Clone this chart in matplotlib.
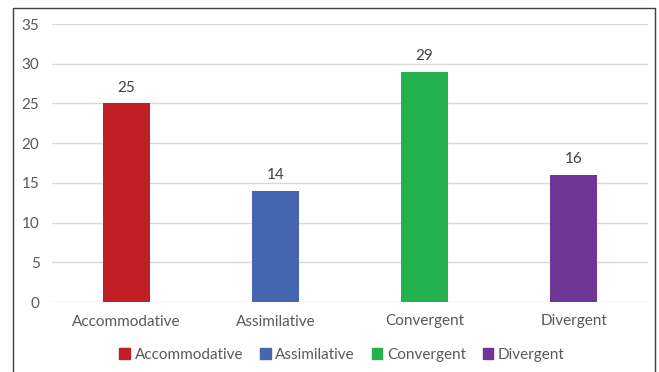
import matplotlib.pyplot as plt
from matplotlib.patches import Rectangle, Patch

categorias = ['Accommodative', 'Assimilative', 'Convergent', 'Divergent']
valores = [25, 14, 29, 16]
colores = ['#C01F26', '#4565B0', '#22B14C', '#6F3597']

plt.rcParams['font.family'] = ['Lato', 'DejaVu Sans']

fig = plt.figure(figsize=(6.59, 3.72), dpi=100)
ax = fig.add_axes([52/659, 1 - 302/372, 596/659, 278/372])

x = range(len(categorias))
ax.bar(x, valores, width=0.315, color=colores, zorder=3)
for i, v in zip(x, valores):
    ax.text(i, v + 1.1, str(v), ha='center', va='bottom', fontsize=11, color='#404040')

ax.set_xlim(-0.5, 3.5)
ax.set_ylim(0, 35)
ax.set_yticks(range(0, 36, 5))
ax.set_xticks(list(x))
ax.set_xticklabels(categorias)
ax.grid(axis='y', color='#D9D9D9', lw=1, zorder=0)
for s in ax.spines.values():
    s.set_visible(False)
ax.tick_params(length=0, labelsize=11, colors='#595959', pad=9)
ax.tick_params(axis='x', pad=9)

handles = [Patch(color=c, label=n) for c, n in zip(colores, categorias)]
fig.legend(handles=handles, loc='center', bbox_to_anchor=(342/659, 1 - 355/372), ncol=4,
           frameon=False, fontsize=11, handlelength=0.7, handleheight=0.7,
           handletextpad=0.3, columnspacing=1.1, labelcolor='#595959')

fig.patches.append(Rectangle((13/659, -0.1), 642/659, 1.1 - 8/372, transform=fig.transFigure,
                             fill=False, edgecolor='#404040', lw=1))

fig.savefig('out.png', dpi=100)
